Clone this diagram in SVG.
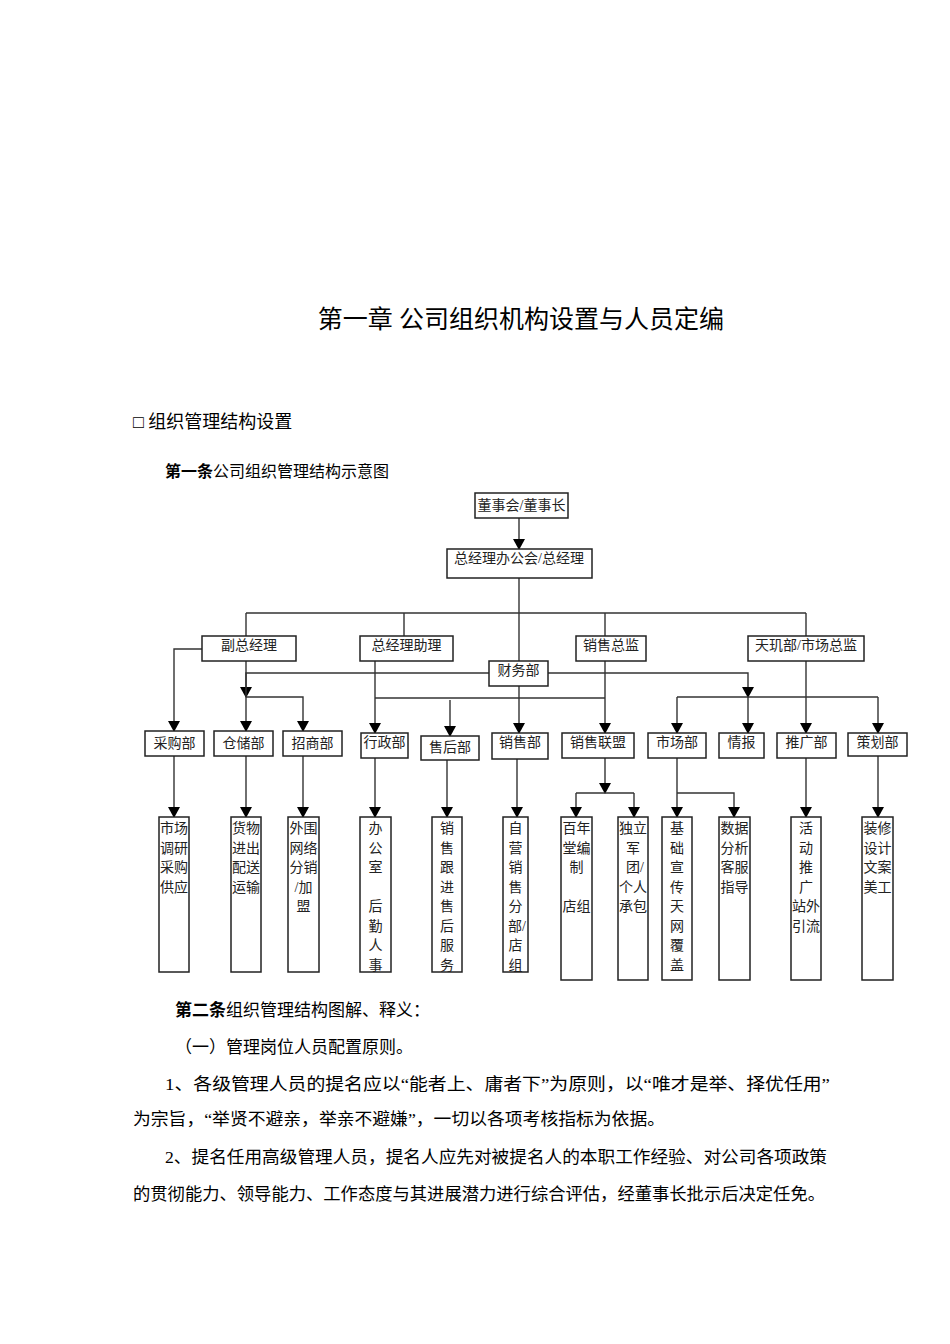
<svg xmlns="http://www.w3.org/2000/svg" width="950" height="1344" viewBox="0 0 950 1344">
<style>
text{font-family:"Liberation Serif","Noto Sans CJK SC",serif;fill:#000}
.p{font-size:17px}
.b{font-weight:bold}
.n rect{fill:#fff;stroke:#222;stroke-width:1.5}
.n text{font-size:14px;text-anchor:middle;fill:#222}
.c path{fill:none;stroke:#333;stroke-width:1.4}
</style>
<defs>
<marker id="a" markerUnits="userSpaceOnUse" markerWidth="12" markerHeight="12" refX="6" refY="11" orient="auto-start-reverse" viewBox="0 0 12 12"><path d="M0,0 L12,0 L6,11 Z" fill="#000" transform="rotate(-90 6 6)"/></marker>
<marker id="d" markerUnits="userSpaceOnUse" markerWidth="12" markerHeight="12" refX="6" refY="11" viewBox="0 0 12 12"><path d="M0,1 L12,1 L6,12 Z" fill="#000"/></marker>
</defs>
<rect width="950" height="1344" fill="#fff"/>
<text x="521" y="328" font-size="25" text-anchor="middle">第一章  公司组织机构设置与人员定编</text>
<text x="133" y="428" font-size="18">□ 组织管理结构设置</text>
<text x="165" y="477" font-size="16"><tspan class="b">第一条</tspan>公司组织管理结构示意图</text>

<g class="c">
<path d="M519 518 V549" marker-end="url(#d)"/>
<path d="M519 578 V661"/>
<path d="M246 613 H806 M246 613 V636 M404 613 V636 M605 613 V636 M806 613 V636"/>
<path d="M202 649 H174 V731" marker-end="url(#d)"/>
<path d="M489 673 H246 V697" marker-end="url(#d)"/>
<path d="M246 661 V731" marker-end="url(#d)"/>
<path d="M246 697 H303 V731" marker-end="url(#d)"/>
<path d="M375 661 V733" marker-end="url(#d)"/>
<path d="M375 698 H605"/>
<path d="M450 700 V736" marker-end="url(#d)"/>
<path d="M519 686 V733" marker-end="url(#d)"/>
<path d="M605 661 V733" marker-end="url(#d)"/>
<path d="M548 673 H748 V697" marker-end="url(#d)"/>
<path d="M677 697 H878"/>
<path d="M677 697 V733" marker-end="url(#d)"/>
<path d="M748 697 V733" marker-end="url(#d)"/>
<path d="M878 697 V733" marker-end="url(#d)"/>
<path d="M806 661 V733" marker-end="url(#d)"/>
<path d="M174 756 V817" marker-end="url(#d)"/>
<path d="M246 756 V817" marker-end="url(#d)"/>
<path d="M303 756 V817" marker-end="url(#d)"/>
<path d="M375 758 V817" marker-end="url(#d)"/>
<path d="M447 760 V817" marker-end="url(#d)"/>
<path d="M517 759 V817" marker-end="url(#d)"/>
<path d="M605 758 V793" marker-end="url(#d)"/>
<path d="M576 793 H634"/>
<path d="M576 793 V817" marker-end="url(#d)"/>
<path d="M634 793 V817" marker-end="url(#d)"/>
<path d="M677 758 V817" marker-end="url(#d)"/>
<path d="M677 793 H734 V817" marker-end="url(#d)"/>
<path d="M806 758 V817" marker-end="url(#d)"/>
<path d="M878 756 V817" marker-end="url(#d)"/>
</g>

<g class="n" id="n1"><rect x="475" y="493" width="93" height="25"/><text x="521.5" y="510">董事会/董事长</text></g>
<g class="n" id="n2"><rect x="447" y="549" width="145" height="29"/><text x="519" y="563">总经理办公会/总经理</text></g>
<g class="n" id="n3"><rect x="202" y="636" width="94" height="25"/><text x="249" y="650">副总经理</text></g>
<g class="n" id="n4"><rect x="360" y="636" width="93" height="25"/><text x="406.5" y="650">总经理助理</text></g>
<g class="n" id="n5"><rect x="576" y="636" width="70" height="25"/><text x="611" y="650">销售总监</text></g>
<g class="n" id="n6"><rect x="748" y="636" width="116" height="25"/><text x="806" y="650">天玑部/市场总监</text></g>
<g class="n" id="n7"><rect x="489" y="661" width="59" height="25"/><text x="518.5" y="675">财务部</text></g>

<g class="n" id="l1"><rect x="145" y="731" width="59" height="25"/><text x="174.5" y="748">采购部</text></g>
<g class="n" id="l2"><rect x="214" y="731" width="59" height="25"/><text x="243.5" y="748">仓储部</text></g>
<g class="n" id="l3"><rect x="283" y="731" width="59" height="25"/><text x="312.5" y="748">招商部</text></g>
<g class="n" id="l4"><rect x="361" y="733" width="47" height="25"/><text x="384.5" y="747">行政部</text></g>
<g class="n" id="l5"><rect x="421" y="736" width="58" height="24"/><text x="450" y="752">售后部</text></g>
<g class="n" id="l6"><rect x="492" y="733" width="56" height="26"/><text x="520" y="747">销售部</text></g>
<g class="n" id="l7"><rect x="562" y="733" width="72" height="25"/><text x="598" y="747">销售联盟</text></g>
<g class="n" id="l8"><rect x="648" y="733" width="58" height="25"/><text x="677" y="747">市场部</text></g>
<g class="n" id="l9"><rect x="719" y="733" width="45" height="25"/><text x="741.5" y="747">情报</text></g>
<g class="n" id="l10"><rect x="777" y="733" width="59" height="25"/><text x="806.5" y="747">推广部</text></g>
<g class="n" id="l11"><rect x="848" y="733" width="59" height="23"/><text x="877.5" y="747">策划部</text></g>

<g class="n" id="b1"><rect x="159" y="817" width="30" height="155"/><text x="174" y="833"><tspan x="174">市场</tspan><tspan x="174" dy="19.5">调研</tspan><tspan x="174" dy="19.5">采购</tspan><tspan x="174" dy="19.5">供应</tspan></text></g>
<g class="n" id="b2"><rect x="231" y="817" width="30" height="155"/><text x="246" y="833"><tspan x="246">货物</tspan><tspan x="246" dy="19.5">进出</tspan><tspan x="246" dy="19.5">配送</tspan><tspan x="246" dy="19.5">运输</tspan></text></g>
<g class="n" id="b3"><rect x="288" y="817" width="31" height="155"/><text x="303.5" y="833"><tspan x="303.5">外围</tspan><tspan x="303.5" dy="19.5">网络</tspan><tspan x="303.5" dy="19.5">分销</tspan><tspan x="303.5" dy="19.5">/加</tspan><tspan x="303.5" dy="19.5">盟</tspan></text></g>
<g class="n" id="b4"><rect x="360" y="817" width="31" height="155"/><text x="375.5" y="833"><tspan x="375.5">办</tspan><tspan x="375.5" dy="19.5">公</tspan><tspan x="375.5" dy="19.5">室</tspan><tspan x="375.5" dy="39">后</tspan><tspan x="375.5" dy="19.5">勤</tspan><tspan x="375.5" dy="19.5">人</tspan><tspan x="375.5" dy="19.5">事</tspan></text></g>
<g class="n" id="b5"><rect x="432" y="817" width="30" height="155"/><text x="447" y="833"><tspan x="447">销</tspan><tspan x="447" dy="19.5">售</tspan><tspan x="447" dy="19.5">跟</tspan><tspan x="447" dy="19.5">进</tspan><tspan x="447" dy="19.5">售</tspan><tspan x="447" dy="19.5">后</tspan><tspan x="447" dy="19.5">服</tspan><tspan x="447" dy="19.5">务</tspan></text></g>
<g class="n" id="b6"><rect x="503" y="817" width="25" height="155"/><text x="515.5" y="833"><tspan x="515.5">自</tspan><tspan x="515.5" dy="19.5">营</tspan><tspan x="515.5" dy="19.5">销</tspan><tspan x="515.5" dy="19.5">售</tspan><tspan x="515.5" dy="19.5">分</tspan><tspan x="517" dy="19.5">部/</tspan><tspan x="515.5" dy="19.5">店</tspan><tspan x="515.5" dy="19.5">组</tspan></text></g>
<g class="n" id="b7"><rect x="561" y="817" width="31" height="163"/><text x="576.5" y="833"><tspan x="576.5">百年</tspan><tspan x="576.5" dy="19.5">堂编</tspan><tspan x="576.5" dy="19.5">制</tspan><tspan x="576.5" dy="39">店组</tspan></text></g>
<g class="n" id="b8"><rect x="618" y="817" width="30" height="163"/><text x="633" y="833"><tspan x="633">独立</tspan><tspan x="633" dy="19.5">军</tspan><tspan x="635" dy="19.5">团/</tspan><tspan x="633" dy="19.5">个人</tspan><tspan x="633" dy="19.5">承包</tspan></text></g>
<g class="n" id="b9"><rect x="662" y="817" width="30" height="163"/><text x="677" y="833"><tspan x="677">基</tspan><tspan x="677" dy="19.5">础</tspan><tspan x="677" dy="19.5">宣</tspan><tspan x="677" dy="19.5">传</tspan><tspan x="677" dy="19.5">天</tspan><tspan x="677" dy="19.5">网</tspan><tspan x="677" dy="19.5">覆</tspan><tspan x="677" dy="19.5">盖</tspan></text></g>
<g class="n" id="b10"><rect x="719" y="817" width="31" height="163"/><text x="734.5" y="833"><tspan x="734.5">数据</tspan><tspan x="734.5" dy="19.5">分析</tspan><tspan x="734.5" dy="19.5">客服</tspan><tspan x="734.5" dy="19.5">指导</tspan></text></g>
<g class="n" id="b11"><rect x="791" y="817" width="30" height="163"/><text x="806" y="833"><tspan x="806">活</tspan><tspan x="806" dy="19.5">动</tspan><tspan x="806" dy="19.5">推</tspan><tspan x="806" dy="19.5">广</tspan><tspan x="806" dy="19.5">站外</tspan><tspan x="806" dy="19.5">引流</tspan></text></g>
<g class="n" id="b12"><rect x="862" y="817" width="31" height="163"/><text x="877.5" y="833"><tspan x="877.5">装修</tspan><tspan x="877.5" dy="19.5">设计</tspan><tspan x="877.5" dy="19.5">文案</tspan><tspan x="877.5" dy="19.5">美工</tspan></text></g>

<text class="p" x="175" y="1016"><tspan class="b">第二条</tspan>组织管理结构图解、释义：</text>
<text class="p" x="175" y="1053">（一）管理岗位人员配置原则。</text>
<text class="p" x="165" y="1090" textLength="665" lengthAdjust="spacingAndGlyphs">1、各级管理人员的提名应以“能者上、庸者下”为原则，以“唯才是举、择优任用”</text>
<text class="p" x="133" y="1125" textLength="532" lengthAdjust="spacingAndGlyphs">为宗旨，“举贤不避亲，举亲不避嫌”，一切以各项考核指标为依据。</text>
<text class="p" x="165" y="1163" textLength="662" lengthAdjust="spacingAndGlyphs">2、提名任用高级管理人员，提名人应先对被提名人的本职工作经验、对公司各项政策</text>
<text class="p" x="133" y="1200" textLength="692" lengthAdjust="spacingAndGlyphs">的贯彻能力、领导能力、工作态度与其进展潜力进行综合评估，经董事长批示后决定任免。</text>
</svg>
